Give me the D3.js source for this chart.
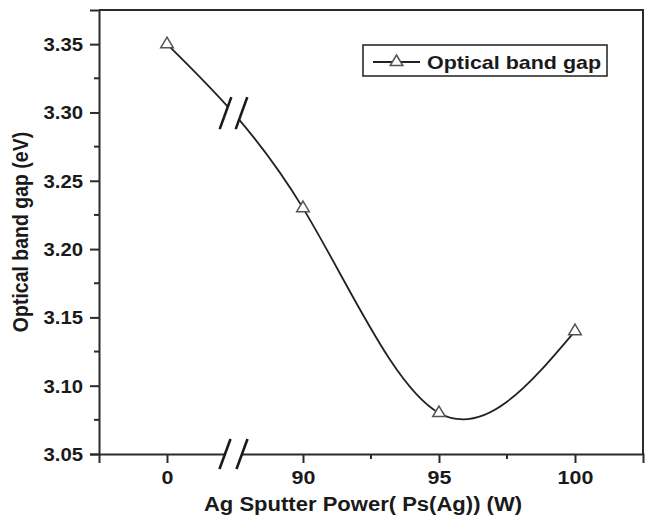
<!DOCTYPE html>
<html>
<head>
<meta charset="utf-8">
<script src="https://cdn.jsdelivr.net/npm/d3@7"></script>
<style>
  html, body { margin: 0; padding: 0; background: #fff; }
  svg { display: block; }
  text { font-family: "Liberation Sans", Arial, sans-serif; font-weight: bold; fill: #1a1a1a; }
</style>
</head>
<body>
<svg id="chart" width="648" height="517"></svg>
<script>
// Ag sputter power (W) — plotted as evenly spaced categories with an axis break after 0
const powerLabels = ["0", "90", "95", "100"];
// Optical band gap (eV)
const bandGap = [3.35, 3.23, 3.08, 3.14];
const yTickValues = [3.05, 3.10, 3.15, 3.20, 3.25, 3.30, 3.35];
const yMinorValues = [3.075, 3.125, 3.175, 3.225, 3.275, 3.325];
const xMinorIndex = [1.5, 2.5];
const breakIndex = 0.5;
const seriesName = "Optical band gap";
const xTitle = "Ag Sputter Power( Ps(Ag)) (W)";
const yTitle = "Optical band gap (eV)";

const W = 648, H = 517;
const plot = { left: 99, right: 643, top: 10, bottom: 454 };
const SX = 1.13;           // horizontal stretch of lettering
const ink = "#2b2b2b";

const svg = d3.select("#chart");

const x = d3.scaleLinear().domain([-0.5, 3.5]).range([plot.left, plot.right]);
const y = d3.scaleLinear().domain([3.05, 3.375]).range([plot.bottom, plot.top]);

function label(g, tx, ty, str, size, anchor, rotate) {
  return g.append("text")
    .attr("transform", `translate(${tx},${ty}) scale(${SX},1)` + (rotate ? ` rotate(${rotate})` : ""))
    .attr("text-anchor", anchor)
    .style("font-size", size + "px")
    .text(str);
}

// frame: top and right borders
svg.append("path")
  .attr("d", `M${plot.left},${plot.top}H${plot.right}V${plot.bottom}`)
  .attr("fill", "none").attr("stroke", ink).attr("stroke-width", 2);

// left axis
const yAxis = d3.axisLeft(y).tickValues(yTickValues).tickSize(9).tickFormat(d3.format(".2f"));
const gy = svg.append("g").attr("transform", `translate(${plot.left},0)`).call(yAxis);
gy.select(".domain").attr("stroke", ink).attr("stroke-width", 2);
gy.selectAll(".tick line").attr("stroke", ink).attr("stroke-width", 2);
gy.selectAll(".tick text").remove();
gy.selectAll(".tick").each(function (d) {
  label(d3.select(this), -16, 6.5, d3.format(".2f")(d), 18, "end");
});
svg.append("g").selectAll("line").data(yMinorValues).join("line")
  .attr("x1", plot.left - 5).attr("x2", plot.left)
  .attr("y1", d => y(d)).attr("y2", d => y(d))
  .attr("stroke", ink).attr("stroke-width", 2);

// bottom axis
const xAxis = d3.axisBottom(x).tickValues(d3.range(powerLabels.length)).tickSize(9)
  .tickFormat(i => powerLabels[i]);
const gx = svg.append("g").attr("transform", `translate(0,${plot.bottom})`).call(xAxis);
gx.select(".domain").attr("stroke", ink).attr("stroke-width", 2);
gx.selectAll(".tick line").attr("stroke", ink).attr("stroke-width", 2);
gx.selectAll(".tick text").remove();
gx.selectAll(".tick").each(function (i) {
  label(d3.select(this), 0, 30, powerLabels[i], 19, "middle");
});
svg.append("g").selectAll("line").data(xMinorIndex).join("line")
  .attr("x1", d => x(d)).attr("x2", d => x(d))
  .attr("y1", plot.bottom).attr("y2", plot.bottom + 5)
  .attr("stroke", ink).attr("stroke-width", 2);

// axis titles
label(svg, 363, 511, xTitle, 19.5, "middle");
label(svg, 28, (plot.top + plot.bottom) / 2, yTitle, 19.5, "middle", -90);

// smooth curve through the points
const pts = bandGap.map((v, i) => [x(i), y(v)]);
const curve = svg.append("path")
  .attr("d", d3.line().curve(d3.curveNatural)(pts))
  .attr("fill", "none").attr("stroke", "#222").attr("stroke-width", 1.8);

// break marks: white gap between two slashes
function breakMark(cx, cy, hx, hy, gap) {
  const g = svg.append("g");
  const a = [cx - gap + hx, cy + hy], b = [cx - gap - hx, cy - hy];
  const c = [cx + gap - hx, cy - hy], d = [cx + gap + hx, cy + hy];
  g.append("path").attr("d", `M${a}L${b}L${c}L${d}Z`).attr("fill", "#fff");
  [-gap, gap].forEach(o => {
    g.append("line")
      .attr("x1", cx + o + hx).attr("y1", cy + hy)
      .attr("x2", cx + o - hx).attr("y2", cy - hy)
      .attr("stroke", "#1a1a1a").attr("stroke-width", 2.6);
  });
}
// find curve height at the break position
function curveYAt(px) {
  const node = curve.node();
  const total = node.getTotalLength();
  let lo = 0, hi = total;
  for (let k = 0; k < 40; k++) {
    const mid = (lo + hi) / 2;
    if (node.getPointAtLength(mid).x < px) lo = mid; else hi = mid;
  }
  return node.getPointAtLength(lo).y;
}
const bx = x(breakIndex) - 1.5;
breakMark(bx, curveYAt(bx), 5.8, -16, 8);
breakMark(bx, plot.bottom, 5.5, -15, 8.5);

// markers
const tri = "M0,-7L6.3,3.6L-6.3,3.6Z";
svg.append("g").selectAll("path").data(pts).join("path")
  .attr("transform", d => `translate(${d[0]},${d[1]})`)
  .attr("d", tri)
  .attr("fill", "#fff").attr("stroke", "#555").attr("stroke-width", 1.5);

// legend
const lg = svg.append("g");
lg.append("rect").attr("x", 363).attr("y", 45).attr("width", 244).attr("height", 31)
  .attr("fill", "#fff").attr("stroke", ink).attr("stroke-width", 1.6);
lg.append("line").attr("x1", 373).attr("x2", 420).attr("y1", 62).attr("y2", 62)
  .attr("stroke", "#222").attr("stroke-width", 1.8);
lg.append("path").attr("transform", "translate(396.5,62)").attr("d", tri)
  .attr("fill", "#fff").attr("stroke", "#555").attr("stroke-width", 1.5);
label(lg, 427, 69, seriesName, 19, "start");
</script>
</body>
</html>
